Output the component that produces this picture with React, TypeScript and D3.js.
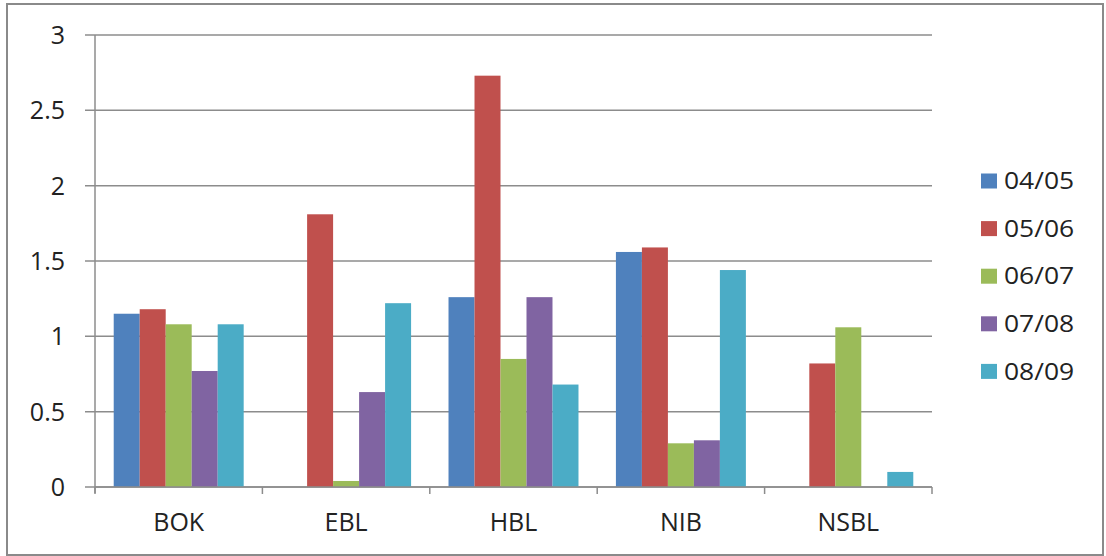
import React from "react";
import * as d3 from "d3";

// Bank ratios by fiscal year
const categories = ["BOK", "EBL", "HBL", "NIB", "NSBL"];
const seriesNames = ["04/05", "05/06", "06/07", "07/08", "08/09"];
const s0405 = [1.15, 0, 1.26, 1.56, 0];
const s0506 = [1.18, 1.81, 2.73, 1.59, 0.82];
const s0607 = [1.08, 0.04, 0.85, 0.29, 1.06];
const s0708 = [0.77, 0.63, 1.26, 0.31, 0];
const s0809 = [1.08, 1.22, 0.68, 1.44, 0.1];
const yTicks = [0, 0.5, 1, 1.5, 2, 2.5, 3];
const yTickLabels = ["0", "0.5", "1", "1.5", "2", "2.5", "3"];

const series = [s0405, s0506, s0607, s0708, s0809];
const colors = ["#4F81BD", "#C0504D", "#9BBB59", "#8064A2", "#4BACC6"];

const W = 1106;
const H = 556;
const plot = { left: 95, right: 932, top: 35, bottom: 487 };
const font = "'Open Sans', 'DejaVu Sans', sans-serif";
const axisColor = "#8c8c8c";

export default function App() {
  const x0 = d3
    .scaleBand<string>()
    .domain(categories)
    .range([plot.left, plot.right])
    .paddingInner(0)
    .paddingOuter(0);
  const x1 = d3
    .scaleBand<string>()
    .domain(seriesNames)
    .range([0, x0.bandwidth()])
    .paddingOuter(0.72)
    .paddingInner(0);
  const y = d3.scaleLinear().domain([0, 3]).range([plot.bottom, plot.top]);

  const catEdges = [...categories.map((c) => x0(c) as number), plot.right];

  return (
    <svg
      width={W}
      height={H}
      style={{ position: "absolute", left: 0, top: 0, background: "#fff" }}
    >
      <rect x={0} y={0} width={W} height={H} fill="#fff" />
      <rect
        x={7}
        y={4}
        width={1096}
        height={551}
        fill="#fff"
        stroke="#8a8a8a"
        strokeWidth={2}
      />
      {/* gridlines and y ticks */}
      {yTicks.map((t, i) => (
        <g key={t}>
          <line
            x1={plot.left - 10}
            x2={plot.right}
            y1={y(t)}
            y2={y(t)}
            stroke={axisColor}
            strokeWidth={1.5}
          />
          <text
            x={65}
            y={y(t)}
            dy="0.36em"
            textAnchor="end"
            fontFamily={font}
            fontSize={25}
            fill="#222"
          >
            {yTickLabels[i]}
          </text>
        </g>
      ))}
      {/* y axis */}
      <line
        x1={plot.left}
        x2={plot.left}
        y1={plot.top}
        y2={plot.bottom + 6}
        stroke={axisColor}
        strokeWidth={1.5}
      />
      {/* x axis ticks */}
      {catEdges.map((e, i) => (
        <line
          key={i}
          x1={e}
          x2={e}
          y1={plot.bottom}
          y2={plot.bottom + 7}
          stroke={axisColor}
          strokeWidth={1.5}
        />
      ))}
      {/* bars */}
      {categories.map((c, ci) => (
        <g key={c} transform={`translate(${x0(c)},0)`}>
          {series.map((s, si) =>
            s[ci] > 0 ? (
              <rect
                key={si}
                x={x1(seriesNames[si])}
                y={y(s[ci])}
                width={x1.bandwidth()}
                height={y(0) - y(s[ci])}
                fill={colors[si]}
              />
            ) : null
          )}
        </g>
      ))}
      {/* x axis line */}
      <line
        x1={plot.left}
        x2={plot.right}
        y1={plot.bottom}
        y2={plot.bottom}
        stroke={axisColor}
        strokeWidth={1.5}
      />
      {categories.map((c) => (
        <text
          key={c}
          x={(x0(c) as number) + x0.bandwidth() / 2}
          y={531}
          textAnchor="middle"
          fontFamily={font}
          fontSize={25}
          fill="#222"
        >
          {c}
        </text>
      ))}
      {/* legend */}
      {seriesNames.map((n, i) => (
        <g key={n} transform={`translate(981,${181 + i * 47.6})`}>
          <rect x={0} y={-7.5} width={16} height={15} fill={colors[i]} />
          <text
            transform="translate(23,0) scale(1.15,1)"
            dy="0.36em"
            fontFamily={font}
            fontSize={23}
            fill="#222"
          >
            {n}
          </text>
        </g>
      ))}
    </svg>
  );
}
